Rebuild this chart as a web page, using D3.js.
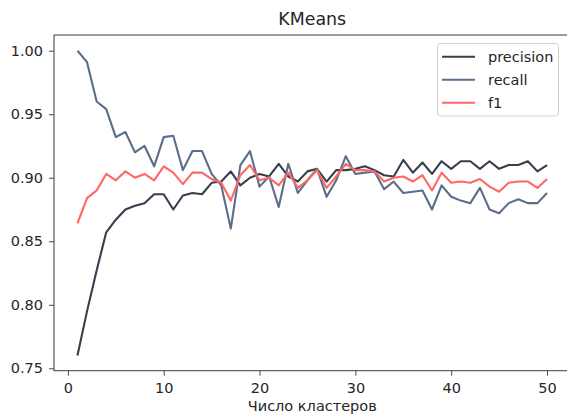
<!DOCTYPE html>
<html>
<head>
<meta charset="utf-8">
<script src="https://cdn.jsdelivr.net/npm/d3@7"></script>
<style>
  html, body { margin: 0; padding: 0; background: #fff; }
  svg { display: block; }
  text { font-family: "DejaVu Sans", sans-serif; }
</style>
</head>
<body>
<script>
const clusters = d3.range(1, 51);
const precision = [0.760,0.795,0.827,0.857,0.867,0.875,0.878,0.880,0.887,0.887,
  0.875,0.886,0.888,0.887,0.896,0.897,0.905,0.894,0.900,0.903,
  0.901,0.911,0.901,0.897,0.905,0.907,0.897,0.906,0.906,0.907,
  0.909,0.906,0.902,0.901,0.914,0.904,0.912,0.903,0.913,0.907,
  0.913,0.913,0.907,0.913,0.907,0.910,0.910,0.913,0.905,0.910];
const recall = [1.000,0.991,0.960,0.954,0.932,0.936,0.920,0.925,0.909,0.932,
  0.933,0.906,0.921,0.921,0.903,0.894,0.860,0.910,0.921,0.893,
  0.901,0.877,0.911,0.888,0.898,0.907,0.885,0.898,0.917,0.903,
  0.904,0.905,0.891,0.897,0.888,0.889,0.890,0.875,0.894,0.885,
  0.882,0.880,0.892,0.875,0.872,0.880,0.883,0.880,0.880,0.888];
const f1 = [0.864,0.884,0.890,0.903,0.898,0.905,0.900,0.903,0.898,0.909,
  0.904,0.895,0.904,0.904,0.899,0.896,0.882,0.902,0.910,0.898,
  0.900,0.894,0.904,0.892,0.898,0.906,0.892,0.901,0.911,0.906,
  0.906,0.905,0.897,0.900,0.901,0.897,0.902,0.890,0.904,0.896,
  0.897,0.896,0.899,0.893,0.889,0.896,0.897,0.897,0.892,0.899];
const xTicks = [0, 10, 20, 30, 40, 50];
const yTicks = [0.75, 0.80, 0.85, 0.90, 0.95, 1.00];
const seriesNames = ["precision", "recall", "f1"];
const seriesColors = ["#373f4c", "#5a6d8b", "#ff6666"];
const chartTitle = "KMeans";
const xLabel = "Число кластеров";

(function () {
const W = 567, H = 419;
const mLeft = 54, mTop = 35, mRight = 570.5, mBottom = 370.7;
const fs = "14.5px";

const svg = d3.select("body").append("svg").attr("width", W).attr("height", H);

const x = d3.scaleLinear().domain([-1.45, 52.45]).range([mLeft, mRight]);
const y = d3.scaleLinear().domain([0.74811, 1.01236]).range([mBottom, mTop]);

// axes
const gx = svg.append("g").attr("transform", `translate(0,${mBottom})`)
  .call(d3.axisBottom(x).tickValues(xTicks).tickFormat(d3.format("d")).tickSizeOuter(0).tickSize(5).tickPadding(7));
const gy = svg.append("g").attr("transform", `translate(${mLeft},0)`)
  .call(d3.axisLeft(y).tickValues(yTicks).tickFormat(d3.format(".2f")).tickSizeOuter(0).tickSize(5).tickPadding(6));
[gx, gy].forEach(g => {
  g.select(".domain").remove();
  g.selectAll(".tick line").attr("stroke", "#333").attr("stroke-width", 0.9);
  g.selectAll(".tick text").attr("fill", "#262626").style("font-size", fs).style("font-family", "DejaVu Sans, sans-serif");
});

// lines
const data = [precision, recall, f1];
const line = d3.line().x((d, i) => x(clusters[i])).y(d => y(d));
const plot = svg.append("g");
data.forEach((vals, k) => {
  plot.append("path").datum(vals)
    .attr("fill", "none")
    .attr("stroke", seriesColors[k])
    .attr("stroke-width", 2.1)
    .attr("stroke-linejoin", "round")
    .attr("d", line);
});

// frame
svg.append("rect").attr("x", mLeft).attr("y", mTop)
  .attr("width", mRight - mLeft).attr("height", mBottom - mTop)
  .attr("fill", "none").attr("stroke", "#3a3a3a").attr("stroke-width", 1);

// title & label
svg.append("text").attr("x", (mLeft + mRight) / 2).attr("y", 25)
  .attr("text-anchor", "middle").attr("fill", "#262626")
  .style("font-size", "17.4px").text(chartTitle);
svg.append("text").attr("x", (mLeft + mRight) / 2).attr("y", 411)
  .attr("text-anchor", "middle").attr("fill", "#262626")
  .style("font-size", fs).text(xLabel);

// legend
const lg = svg.append("g");
lg.append("rect").attr("x", 437.5).attr("y", 43.5).attr("width", 121).attr("height", 72.5)
  .attr("rx", 3).attr("fill", "#fff").attr("fill-opacity", 0.8)
  .attr("stroke", "#d0d0d0").attr("stroke-width", 1);
seriesNames.forEach((name, k) => {
  const yy = 56.7 + k * 23;
  lg.append("line").attr("x1", 442).attr("x2", 475).attr("y1", yy).attr("y2", yy)
    .attr("stroke", seriesColors[k]).attr("stroke-width", 2);
  lg.append("text").attr("x", 488).attr("y", yy).attr("dy", "0.35em")
    .attr("fill", "#262626").style("font-size", fs).text(name);
});
})();
</script>
</body>
</html>
